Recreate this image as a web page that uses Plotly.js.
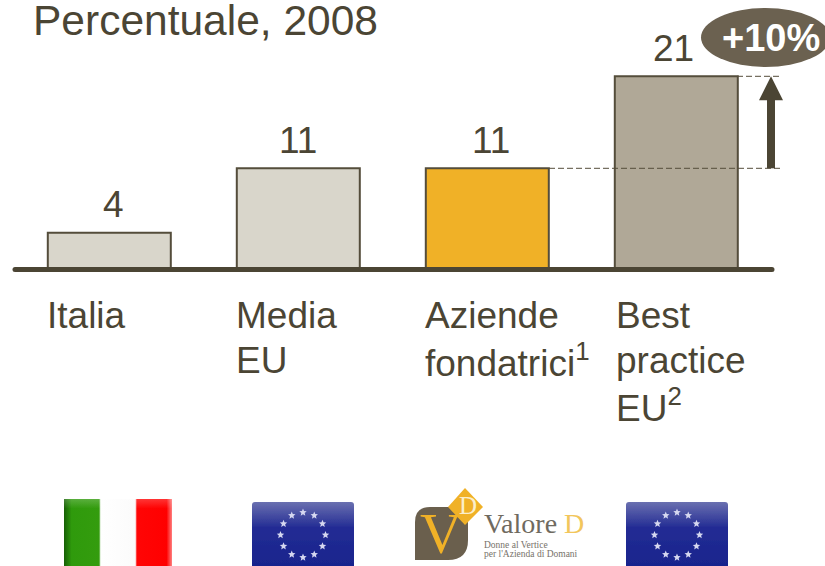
<!DOCTYPE html>
<html><head><meta charset="utf-8">
<script src="https://cdn.plot.ly/plotly-3.0.1.min.js"></script>
<style>html,body{margin:0;padding:0;background:#fff;overflow:hidden}#c{width:825px;height:566px}</style>
</head><body><div id="c"></div>
<script>
const titleText = 'Percentuale, 2008';
const categories = ['Italia', 'Media<br>EU', 'Aziende<br>fondatrici<sup>1</sup>', 'Best<br>practice<br>EU<sup>2</sup>'];
const values = [4, 11, 11, 21];
const barColors = ['#d9d6cb', '#d9d6cb', '#f0b127', '#b0a897'];
const gainLabel = '+10%';

const W = 825, H = 566;
const dark = '#4b4534', border = '#544d3b';
const fontFam = '"Liberation Sans", Arial, sans-serif';
const serif = '"Liberation Serif", serif';
const px = x => x / W, py = y => 1 - y / H;
// axis ranges chosen so that 1 category = 189 px, 1 unit = 9.2 px
const xC0 = 109.3, xStep = 189, yBase = 269.5, yUnit = 9.2;
const barW = 123 / xStep;
const labelNudge = [4, 0, 4, -3];

function star(cx, cy, r) {
  let p = [];
  for (let i = 0; i < 10; i++) {
    const a = -Math.PI / 2 + i * Math.PI / 5, rr = i % 2 ? r * 0.45 : r;
    p.push((cx + rr * Math.cos(a)).toFixed(2) + ',' + (cy + rr * Math.sin(a)).toFixed(2));
  }
  return '<polygon points="' + p.join(' ') + '" fill="#d6d8f0"/>';
}
function euSvg() {
  let s = '';
  for (let i = 0; i < 12; i++) {
    const a = i * Math.PI / 6;
    s += star(52 + 22.5 * Math.sin(a), 34 - 22.5 * Math.cos(a), 3.9);
  }
  return '<svg xmlns="http://www.w3.org/2000/svg" width="104" height="80" viewBox="0 0 104 80">' +
    '<defs><linearGradient id="g" x1="0" y1="0" x2="0" y2="1"><stop offset="0" stop-color="#6a70b0"/><stop offset="0.32" stop-color="#232c94"/><stop offset="1" stop-color="#14208a"/></linearGradient>' +
    '<filter id="b"><feGaussianBlur stdDeviation="0.7"/></filter></defs>' +
    '<g filter="url(#b)"><rect x="1" y="1" width="102" height="80" rx="3" fill="url(#g)"/>' + s + '</g></svg>';
}
function itSvg() {
  return '<svg xmlns="http://www.w3.org/2000/svg" width="108" height="80" viewBox="0 0 108 80">' +
    '<defs><linearGradient id="g" x1="0" x2="1" y1="0" y2="0">' +
    '<stop offset="0" stop-color="#175f05"/><stop offset="0.07" stop-color="#2f9a0c"/><stop offset="0.325" stop-color="#349c0e"/><stop offset="0.34" stop-color="#ffffff"/>' +
    '<stop offset="0.66" stop-color="#fbfbfb"/><stop offset="0.675" stop-color="#ff0505"/><stop offset="0.95" stop-color="#ff0000"/><stop offset="1" stop-color="#ff8080"/></linearGradient>' +
    '<linearGradient id="t" x1="0" x2="0" y1="0" y2="1"><stop offset="0" stop-color="#fff" stop-opacity="0.2"/><stop offset="0.12" stop-color="#fff" stop-opacity="0"/></linearGradient></defs>' +
    '<rect width="108" height="80" fill="url(#g)"/><rect width="108" height="80" fill="url(#t)"/></svg>';
}
const uri = s => 'data:image/svg+xml;charset=utf-8,' + encodeURIComponent(s);
const img = (s, x, y, w, h) => ({source: uri(s), xref: 'paper', yref: 'paper', x: px(x), y: py(y),
  sizex: w / W, sizey: h / H, xanchor: 'left', yanchor: 'top', sizing: 'stretch', layer: 'above'});

const lastIdx = values.length - 1;
const dashed = (x0, val) => ({type: 'line', xref: 'paper', yref: 'y', x0: px(x0), x1: px(782), y0: val, y1: val,
  line: {color: border, width: 1, dash: '6px,3px'}, layer: 'above'});
const arrowX = 771;
const topV = values[lastIdx], midV = values[2];

const shapes = [
  {type: 'line', xref: 'paper', yref: 'y', x0: px(15), x1: px(772), y0: 0, y1: 0, line: {color: dark, width: 5}, layer: 'above'},
  {type: 'circle', xref: 'paper', yref: 'paper', x0: px(15 - 2.5), x1: px(15 + 2.5), y0: py(272), y1: py(267), fillcolor: dark, line: {width: 0}},
  {type: 'circle', xref: 'paper', yref: 'paper', x0: px(772 - 2.5), x1: px(772 + 2.5), y0: py(272), y1: py(267), fillcolor: dark, line: {width: 0}},
  dashed(549, midV),
  dashed(737, topV),
  {type: 'line', xref: 'paper', yref: 'y', x0: px(arrowX), x1: px(arrowX), y0: midV, y1: topV - 2.4, line: {color: dark, width: 8}, layer: 'above'},
  {type: 'path', xref: 'paper', yref: 'y', layer: 'above', fillcolor: dark, line: {width: 0},
   path: `M${px(arrowX)},${topV} L${px(arrowX + 12)},${topV - 2.6} L${px(arrowX - 12)},${topV - 2.6} Z`},
  {type: 'circle', xref: 'paper', yref: 'paper', x0: px(701), x1: px(830), y0: py(67), y1: py(8), fillcolor: '#6b6150', line: {width: 0}, layer: 'above'},
  // Valore D logo
  {type: 'path', xref: 'paper', yref: 'paper', layer: 'above', fillcolor: '#6a5f4d', line: {width: 0},
   path: `M${px(430)},${py(507)} L${px(468)},${py(507)} L${px(468)},${py(540)} Q${px(468)},${py(560)} ${px(448)},${py(560)} L${px(415)},${py(560)} L${px(415)},${py(522)} Q${px(415)},${py(507)} ${px(430)},${py(507)} Z`},
  {type: 'path', xref: 'paper', yref: 'paper', layer: 'above', fillcolor: '#f0b127', line: {width: 0},
   path: `M${px(465)},${py(488)} L${px(483)},${py(507)} L${px(465)},${py(525)} L${px(448)},${py(507)} Z`}
];

const annotations = [
  {text: titleText, xref: 'paper', yref: 'paper', x: px(31), y: py(20), xanchor: 'left', yanchor: 'middle', showarrow: false, font: {family: fontFam, size: 42.5, color: dark}},
  {text: '<b>' + gainLabel + '</b>', xref: 'paper', yref: 'paper', x: px(771), y: py(38), xanchor: 'center', yanchor: 'middle', showarrow: false, font: {family: fontFam, size: 38, color: '#ffffff'}},
  {text: 'V', xref: 'paper', yref: 'paper', x: px(441), y: py(533), xanchor: 'center', yanchor: 'middle', showarrow: false, font: {family: serif, size: 58, color: '#f0b127'}},
  {text: 'D', xref: 'paper', yref: 'paper', x: px(468), y: py(505), xanchor: 'center', yanchor: 'middle', showarrow: false, font: {family: serif, size: 25, color: '#fbeecb'}},
  {text: 'Valore <span style="color:#f2c65c">D</span>', xref: 'paper', yref: 'paper', x: px(482), y: py(523.5), xanchor: 'left', yanchor: 'middle', showarrow: false, font: {family: serif, size: 28, color: '#6f6a60'}},
  {text: 'Donne al Vertice', xref: 'paper', yref: 'paper', x: px(482), y: py(545), xanchor: 'left', yanchor: 'middle', showarrow: false, font: {family: serif, size: 9.5, color: '#77726a'}},
  {text: "per l'Azienda di Domani", xref: 'paper', yref: 'paper', x: px(482), y: py(554), xanchor: 'left', yanchor: 'middle', showarrow: false, font: {family: serif, size: 9.5, color: '#77726a'}}
];
values.forEach((v, i) => {
  annotations.push({text: String(v), xref: 'x', yref: 'y', x: i, y: v, xshift: labelNudge[i], yshift: 28, xanchor: 'center', yanchor: 'middle',
    showarrow: false, font: {family: fontFam, size: 37, color: dark}});
});
categories.forEach((c, i) => {
  c.split('<br>').forEach((ln, k) => {
    annotations.push({text: ln, xref: 'x', yref: 'paper', x: i - barW / 2, xshift: i === 3 ? -1 : -2.5, y: py(315.5 + 45 * k), xanchor: 'left', yanchor: 'middle',
      showarrow: false, font: {family: fontFam, size: 37, color: dark}});
  });
});

const trace = {
  type: 'bar', x: categories.map((_, i) => i), y: values, width: barW,
  marker: {color: barColors, line: {color: border, width: 2}},
  hoverinfo: 'skip'
};

const layout = {
  width: W, height: H, margin: {l: 0, r: 0, t: 0, b: 0}, paper_bgcolor: '#fff', plot_bgcolor: '#fff', showlegend: false,
  xaxis: {range: [-xC0 / xStep, (W - xC0) / xStep], visible: false, fixedrange: true},
  yaxis: {range: [-(H - yBase) / yUnit, yBase / yUnit], visible: false, fixedrange: true},
  shapes, annotations,
  images: [img(itSvg(), 64, 499, 108, 80), img(euSvg(), 251, 501, 104, 80), img(euSvg(), 625, 501, 104, 80)]
};
Plotly.newPlot('c', [trace], layout, {staticPlot: true, displayModeBar: false});
</script></body></html>
